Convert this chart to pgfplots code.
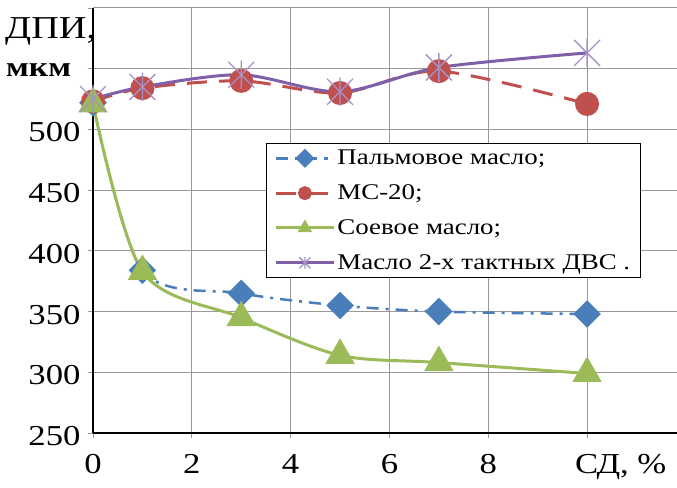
\documentclass[border=0pt]{standalone}
\usepackage{fontspec}
\setmainfont{Liberation Serif}[FakeStretch=1.2]
\usepackage{pgfplots}
\pgfplotsset{compat=1.18}

\definecolor{palm}{HTML}{4A7EBB}
\definecolor{ms}{HTML}{C0504D}
\definecolor{soy}{HTML}{9BBB59}
\definecolor{twostroke}{HTML}{7F60A8}
\definecolor{twostrokemark}{HTML}{A592C8}

% Excel-style star: an X with a vertical bar
\pgfdeclareplotmark{xstar}{%
  \pgfpathmoveto{\pgfqpoint{-\pgfplotmarksize}{-\pgfplotmarksize}}%
  \pgfpathlineto{\pgfqpoint{\pgfplotmarksize}{\pgfplotmarksize}}%
  \pgfpathmoveto{\pgfqpoint{-\pgfplotmarksize}{\pgfplotmarksize}}%
  \pgfpathlineto{\pgfqpoint{\pgfplotmarksize}{-\pgfplotmarksize}}%
  \pgfpathmoveto{\pgfqpoint{0pt}{-1.1\pgfplotmarksize}}%
  \pgfpathlineto{\pgfqpoint{0pt}{1.1\pgfplotmarksize}}%
  \pgfusepathqstroke}

\pgfplotstableread{
x y
0 522
1 384
3 365
5 355
7 350
10 348
}\palmdata
\pgfplotstableread{
x y
0 523
1 534
3 540
5 530
7 548
10 521
}\msdata
\pgfplotstableread{
x y
0 521
1 383
3 345
5 314
7 308
10 299
}\soydata
\pgfplotstableread{
x y
0 525
1 535
3 545
5 531
7 551
10 563
}\twodata

\begin{document}
\begin{tikzpicture}
\useasboundingbox (-93bp,-55bp) rectangle (584bp,433bp);
\begin{axis}[
  scale only axis, width=584bp, height=425bp,
  at={(0,0)}, anchor=south west,
  xmin=0, xmax=11.82, ymin=250, ymax=600,
  clip=false,
  axis x line=bottom, axis y line=left,
  axis line style={-, line width=2.5bp, black},
  xtick={0,2,4,6,8,10},
  xticklabels={0,2,4,6,8,{\makebox[0pt][l]{\hspace{-12bp}СД, \%}}},
  ytick={250,300,...,600},
  yticklabels={250,300,350,400,450,500,{},{}},
  grid=major, grid style={black!40, line width=1bp},
  tick style={black!40, line width=0.8bp}, tick align=outside,
  major tick length=5bp,
  ticklabel style={font=\fontsize{29}{30}\selectfont},
  /pgf/number format/assume math mode=true,
  xticklabel style={yshift=-13bp},
  yticklabel style={xshift=-4bp, yshift=-3bp},
  legend cell align=left,
  legend style={at={(axis cs:3.5,489)}, anchor=north west,
    draw=black, line width=1bp, fill=white,
    font=\fontsize{22.5}{24}\selectfont,
    inner xsep=8bp, inner ysep=5bp, row sep=14.5bp},
  legend image code/.code={%
    \draw[mark repeat=2, mark phase=2, mark size=5.5bp]
      plot coordinates {(0bp,0bp) (29bp,0bp) (58bp,0bp)};},
]
\addplot[palm, line width=2.5bp, smooth,
  dash pattern=on 12bp off 7bp on 3bp off 7bp,
  mark=square*, mark size=8.5bp,
  mark options={solid, rotate=45, fill=palm, draw=palm}]
  table {\palmdata};
\addlegendentry{Пальмовое масло;}
\addplot[ms, line width=3bp, smooth,
  dash pattern=on 20bp off 12bp,
  mark=*, mark size=10.5bp,
  mark options={solid, fill=ms, draw=ms}]
  table {\msdata};
\addlegendentry{МС-20;}
\addplot[soy, line width=3bp, smooth,
  mark=triangle*, mark size=14bp,
  mark options={solid, fill=soy, draw=soy}]
  table {\soydata};
\addlegendentry{Соевое масло;}
\addplot[twostroke, line width=3bp, smooth,
  mark=xstar, mark size=13bp,
  mark options={solid, draw=twostrokemark, line width=1.3bp}]
  table {\twodata};
\addlegendentry{Масло 2-х тактных ДВС .}
\draw[black, line width=2.5bp] (axis cs:0,250) -- (axis cs:0,600);
\end{axis}
\node[anchor=base west, inner sep=0pt] at (-88bp,394bp)
  {\fontsize{32}{34}\selectfont ДПИ,};
\node[anchor=base west, inner sep=0pt] at (-87bp,356bp)
  {\fontsize{28}{30}\selectfont\bfseries мкм};
\end{tikzpicture}
\end{document}
